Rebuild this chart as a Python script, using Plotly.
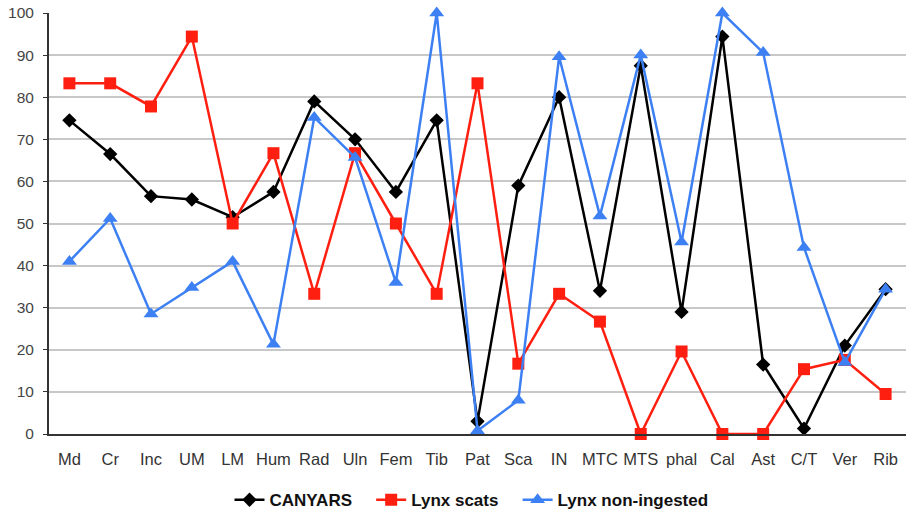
import plotly.graph_objects as go

categories = ["Md", "Cr", "Inc", "UM", "LM", "Hum", "Rad", "Uln", "Fem", "Tib", "Pat",
              "Sca", "IN", "MTC", "MTS", "phal", "Cal", "Ast", "C/T", "Ver", "Rib"]

canyars = [74.5, 66.5, 56.5, 55.7, 51.5, 57.5, 79, 70, 57.5, 74.5, 3,
           59, 80, 34, 87.5, 29, 94.4, 16.5, 1.3, 21, 34.4]
lynx_scats = [83.3, 83.3, 77.8, 94.4, 50, 66.7, 33.3, 66.7, 50, 33.3, 83.3,
              16.7, 33.3, 26.7, 0, 19.6, 0, 0, 15.4, 17.6, 9.5]
lynx_non_ingested = [41, 51.2, 28.5, 34.8, 41, 21.3, 75.2, 65.7, 36, 100, 0.8,
                     8, 89.6, 51.8, 90, 45.6, 100, 90.6, 44.3, 17, 34.4]

y_ticks = [0, 10, 20, 30, 40, 50, 60, 70, 80, 90, 100]

pad = "\u00a0\u00a0\u00a0"
fig = go.Figure()
series = [
    ("CANYARS" + pad, canyars, "#000000", "diamond", 11),
    ("Lynx scats" + pad, lynx_scats, "#ff1f10", "square", 12),
    ("Lynx non-ingested", lynx_non_ingested, "#3d80f3", "triangle-up", 13),
]
for name, vals, color, sym, size in series:
    fig.add_trace(go.Scatter(
        x=categories, y=vals, name=name, mode="lines+markers",
        line=dict(color=color, width=2.5),
        marker=dict(symbol=sym, size=size, color=color),
        cliponaxis=False,
    ))

fig.update_layout(
    width=907, height=512,
    margin=dict(l=49, r=1, t=13, b=77.5),
    paper_bgcolor="white", plot_bgcolor="white",
    font=dict(family="Liberation Sans, Arial, sans-serif", size=15, color="#444444"),
    showlegend=True,
    legend=dict(orientation="h", x=0.493, xanchor="center",
                yref="container", y=0.023, yanchor="middle",
                font=dict(size=17, color="#111111", family="Liberation Sans, Arial, sans-serif", weight="bold"),
                itemwidth=30, tracegroupgap=0),
)
fig.update_xaxes(
    type="category", range=[-0.5, 20.5], automargin=False,
    showline=True, linecolor="#333333", linewidth=2,
    showgrid=False, ticks="", ticklabelstandoff=9,
    tickfont=dict(size=16.5, color="#333333"),
)
fig.update_yaxes(
    range=[0, 100], tickvals=y_ticks, automargin=False,
    showline=True, linecolor="#333333", linewidth=2,
    showgrid=True, gridcolor="#c8c8c8", gridwidth=1.5,
    ticks="outside", ticklen=4, tickcolor="#333333", ticklabelstandoff=6,
    tickfont=dict(size=15.5, color="#444444"), zeroline=False,
)

fig.write_html("out.html", config={"displayModeBar": False},
               post_script="document.body.style.margin='0';document.body.style.overflow='hidden';")
